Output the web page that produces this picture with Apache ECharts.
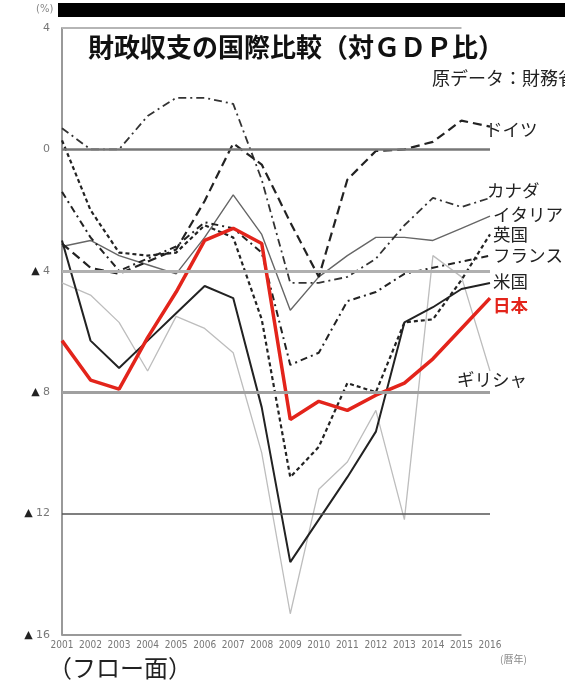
<!DOCTYPE html>
<html>
<head>
<meta charset="utf-8">
<script src="https://cdn.jsdelivr.net/npm/echarts@6/dist/echarts.min.js"></script>
<style>
html, body { margin: 0; padding: 0; background: #fff; }
#chart { width: 565px; height: 687px; }
</style>
</head>
<body>
<div id="chart"></div>
<script>
var years = ['2001', '2002', '2003', '2004', '2005', '2006', '2007', '2008',
    '2009', '2010', '2011', '2012', '2013', '2014', '2015', '2016'];
var yTicks = [4, 0, -4, -8, -12, -16];

// 財政収支（対GDP比, %） 図から読み取り
var japan = [-6.3, -7.6, -7.9, -6.2, -4.7, -3.0, -2.6, -3.1, -8.9, -8.3, -8.6, -8.1, -7.7, -6.9, -5.9, -4.9];
var usa = [-3.0, -6.3, -7.2, -6.3, -5.4, -4.5, -4.9, -8.5, -13.6, -12.2, -10.8, -9.3, -5.7, -5.2, -4.6, -4.4];
var greece = [-4.4, -4.8, -5.7, -7.3, -5.5, -5.9, -6.7, -10.0, -15.3, -11.2, -10.3, -8.6, -12.2, -3.5, -4.2, -7.3];
var italy = [-3.2, -3.0, -3.5, -3.8, -4.1, -2.9, -1.5, -2.8, -5.3, -4.2, -3.5, -2.9, -2.9, -3.0, -2.6, -2.2];
var germany = [-3.1, -3.9, -4.1, -3.7, -3.3, -1.7, 0.2, -0.5, -2.4, -4.2, -1.0, -0.05, 0.0, 0.25, 0.95, 0.75];
var canada = [0.7, 0.0, 0.0, 1.1, 1.7, 1.7, 1.5, -1.0, -4.4, -4.4, -4.2, -3.6, -2.5, -1.6, -1.9, -1.6];
var france = [-1.4, -2.9, -4.0, -3.6, -3.2, -2.4, -2.6, -3.4, -7.1, -6.7, -5.0, -4.7, -4.1, -3.9, -3.7, -3.5];
var uk = [0.3, -2.0, -3.4, -3.5, -3.4, -2.5, -2.9, -5.6, -10.8, -9.8, -7.7, -8.0, -5.7, -5.6, -4.3, -2.8];

var jpFont = '"Noto Sans CJK JP", sans-serif';

function line(name, data, color, width, type, labelOffset, labelStyle) {
    var lbl = {
        show: true,
        formatter: name,
        distance: 3,
        offset: labelOffset,
        fontFamily: jpFont,
        fontSize: 17.5,
        color: '#222'
    };
    if (labelStyle) {
        for (var k in labelStyle) lbl[k] = labelStyle[k];
    }
    return {
        name: name,
        type: 'line',
        data: data,
        symbol: 'none',
        silent: true,
        lineStyle: { color: color, width: width, type: type },
        endLabel: lbl
    };
}

var gridSeries = {
    name: 'grid',
    type: 'line',
    data: [],
    silent: true,
    z: 1,
    markLine: {
        symbol: 'none',
        silent: true,
        label: { show: false },
        data: [
            { yAxis: 0, lineStyle: { color: '#777', width: 2.5, type: 'solid' } },
            { yAxis: -4, lineStyle: { color: '#b0b0b0', width: 3, type: 'solid' } },
            { yAxis: -8, lineStyle: { color: '#a0a0a0', width: 3, type: 'solid' } },
            { yAxis: -12, lineStyle: { color: '#555', width: 1.5, type: 'solid' } },
            [{ coord: [0, 4], lineStyle: { color: '#b5b5b5', width: 2, type: 'solid' } }, { coord: [14, 4] }],
            [{ coord: [0, -16], lineStyle: { color: '#999', width: 2, type: 'solid' } }, { coord: [14, -16] }]
        ]
    }
};

var option = {
    animation: false,
    backgroundColor: '#fff',
    grid: { left: 62, right: 75, top: 28, bottom: 52 },
    xAxis: {
        type: 'category',
        data: years,
        boundaryGap: false,
        axisLine: { show: false },
        axisTick: { show: false },
        splitLine: { show: false },
        axisLabel: {
            interval: 0,
            margin: 5,
            fontFamily: 'DejaVu Sans Condensed',
            fontSize: 10,
            color: '#777'
        }
    },
    yAxis: {
        type: 'value',
        min: -16,
        max: 4,
        interval: 4,
        axisLine: { show: true, lineStyle: { color: '#999', width: 2 } },
        axisTick: { show: false },
        splitLine: { show: false },
        axisLabel: {
            margin: 12,
            formatter: function (v) {
                if (yTicks.indexOf(v) < 0) return '';
                return v < 0 ? '{t|▲} {n|' + (-v) + '}' : '{n|' + v + '}';
            },
            rich: {
                t: { fontSize: 11, color: '#222', fontFamily: 'DejaVu Sans' },
                n: { fontSize: 11, color: '#777', fontFamily: 'DejaVu Sans' }
            }
        }
    },
    graphic: [
        { type: 'rect', shape: { x: 58, y: 3, width: 507, height: 14 }, style: { fill: '#000' } },
        { type: 'text', x: 36, y: 4, style: { text: '(%)', fontSize: 10, fill: '#888', fontFamily: 'DejaVu Sans' } },
        { type: 'text', x: 88, y: 34, style: { text: '財政収支の国際比較（対ＧＤＰ比）', fontSize: 26, fontWeight: 'bold', fill: '#111', fontFamily: jpFont } },
        { type: 'text', x: 432, y: 69, style: { text: '原データ：財務省', fontSize: 18, fill: '#222', fontFamily: jpFont } },
        { type: 'text', x: 48, y: 656, style: { text: '（フロー面）', fontSize: 24, fill: '#222', fontFamily: jpFont } },
        { type: 'text', x: 500, y: 654, style: { text: '(暦年)', fontSize: 10, fill: '#888', fontFamily: jpFont } }
    ],
    series: [
        gridSeries,
        line('ギリシャ', greece, '#bdbdbd', 1.3, 'solid', [-36, 8]),
        line('イタリア', italy, '#666', 1.4, 'solid', [0, -2]),
        line('カナダ', canada, '#333', 1.8, [8, 4, 2, 4], [-6, -8]),
        line('ドイツ', germany, '#222', 2.2, [9, 5], [-8, 3]),
        line('フランス', france, '#222', 2, [7, 4, 2, 4], [0, 0]),
        line('英国', uk, '#222', 2.2, [4, 3], [0, 0]),
        line('米国', usa, '#222', 2, 'solid', [0, -2]),
        line('日本', japan, '#e3241b', 3.5, 'solid', [0, 7], { color: '#e3241b', fontWeight: 'bold' })
    ]
};

var chart = echarts.init(document.getElementById('chart'));
chart.setOption(option);
</script>
</body>
</html>
